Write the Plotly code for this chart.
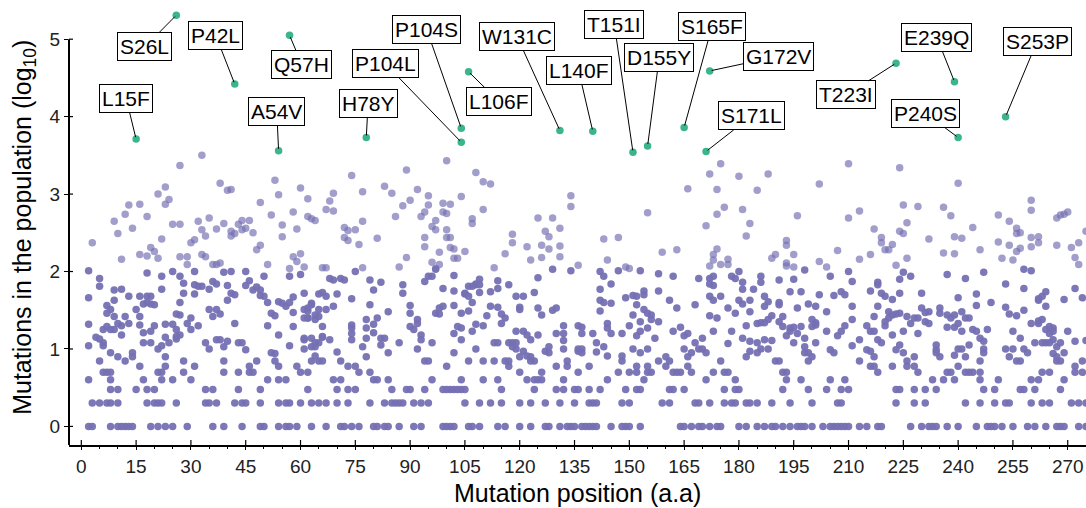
import numpy as np
import plotly.graph_objects as go

# ---------------- data ----------------
# positions whose mutation count sits on the low discrete levels
pos_count1 = [2,3,8,10,11,12,13,14,19,21,23,25,29,36,39,44,49,50,54,56,57,59,63,67,71,72,74,76,80,81,83,84,87,91,93,99,100,101,102,106,107,109,114,116,120,123,127,128,131,133,134,135,137,138,139,140,141,145,148,149,150,153,164,165,167,169,170,172,174,175,180,182,185,187,189,190,192,194,196,197,198,200,203,205,206,207,208,209,210,213,215,218,219,227,230,232,233,234,237,240,245,248,249,250,252,255,259,261,264,267,268,269,273,275]
pos_count2 = [3,5,7,8,10,18,20,21,22,26,34,35,37,42,44,45,49,54,56,57,60,63,65,67,70,73,79,83,85,86,87,88,91,93,95,105,109,112,115,120,123,127,131,135,139,140,141,148,150,159,161,168,169,172,176,178,179,182,183,185,189,194,200,207,208,223,228,231,242,246,250,253,254,260,263,265,271,273,275]
pos_count3 = [8,10,15,18,20,34,36,43,49,62,70,73,75,85,89,90,94,99,100,101,102,103,104,105,115,124,130,132,135,136,139,142,149,152,153,161,162,165,176,179,180,192,199,204,208,210,223,224,228,231,234,247,250,257,258,261,268]
pos_count4 = [2,8,17,22,25,30,51,54,56,69,71,80,81,84,96,104,110,114,122,124,125,126,132,144,154,171,179,193,197,205,209,233,236,239,246,251,260,262,269]
pos_count5 = [6,7,8,21,22,28,39,43,46,47,60,62,76,79,120,126,136,147,150,152,155,156,162,163,164,167,173,176,177,192,193,218,229,237,238,242,243,244,246,263,265,272,274]
pos_count6 = [16,23,31,46,54,59,73,75,100,117,130,133,139,152,155,160,166,216,217,222,226,228,240,272]
pos_count7 = [5,12,28,39,48,53,63,65,66,71,94,95,106,110,113,116,117,123,124,133,148,158,161,175,190,191,199,213,226,246,256,257,267,268,274]

# (position, log10 count) for the remaining mutations, by stretch of the protein
points_1_64 = [(33,3.50),(27,3.37),(38,3.14),(40,3.05),(41,3.06),(53,3.18),(54,2.99),(60,3.08),(62,2.94),(23,3.09),(21,3.00),(24,2.93),(23,2.87),(13,2.86),(16,2.87),(12,2.74),(9,2.65),(18,2.71),(14,2.56),(10,2.49),(3,2.37),(11,2.16),(16,2.22),(18,2.20),(19,2.31),(20,2.26),(21,2.17),(22,2.42),(25,2.61),(27,2.61),(30,2.37),(31,2.41),(32,2.65),(33,2.54),(34,2.46),(35,2.69),(37,2.55),(39,2.62),(41,2.52),(42,2.49),(41,2.46),(43,2.61),(44,2.66),(45,2.56),(44,2.54),(46,2.66),(47,2.50),(49,2.89),(52,2.73),(55,2.60),(55,2.45),(58,2.77),(59,2.55),(62,2.71),(63,2.68),(64,2.66),(48,2.28),(49,2.34),(51,2.09),(58,2.19),(59,2.13),(60,2.23),(27,2.19),(29,2.19),(29,2.09),(33,2.22),(34,2.19),(36,2.09),(37,2.09),(38,2.11),(39,1.99),(41,2.00),(45,2.00),(50,1.94),(57,2.04),(57,1.94),(61,2.06),(60,1.96),(25,2.00),(27,1.94),(28,1.85),(22,1.94),(22,1.77),(18,1.98),(2,2.01),(5,1.91),(5,1.81),(2,1.66),(11,1.77),(13,1.68),(9,1.63),(9,1.76),
    (2,1.32),(2,1.04),(4,1.15),(5,1.13),(6,1.08),(6,1.04),(7,1.56),(7,1.46),(8,1.51),(6,1.25),(7,1.29),(8,1.25),(9,1.42),(9,1.25),(11,1.30),(11,1.18),(10,1.33),(12,1.42),(13,1.33),(8,0.95),(10,0.90),(14,0.95),(14,0.90),(15,1.51),(16,1.42),(17,1.58),(18,1.60),(19,1.58),(20,1.57),(16,1.68),(18,1.68),(19,1.68),(16,1.31),(17,1.21),(19,1.23),(20,1.30),(17,1.08),(19,1.08),(21,1.00),(22,1.04),(23,1.15),(24,1.08),(23,0.90),(23,1.32),(25,1.32),(26,1.25),(27,1.18),(26,1.16),(27,1.44),(26,1.45),(27,1.60),(28,1.72),(29,1.33),(30,1.25),(30,1.40),(31,1.71),(31,1.83),(31,2.00),(26,1.13),(32,1.30),(32,1.81),(33,1.81),(35,1.77),(36,1.87),(37,1.84),(35,1.51),(36,1.42),(37,1.51),(38,1.45),(34,1.08),(35,1.00),(37,1.12),(38,1.12),(39,1.03),(40,1.10),(40,1.63),(41,1.72),(42,1.70),(40,1.82),(42,1.33),(43,1.08),(44,1.08),(45,1.82),(46,1.88),(47,1.76),(48,1.80),(49,1.76),(50,1.68),(49,1.69),(45,0.99),(51,1.60),(52,1.46),(53,1.43),(54,1.61),(55,1.59),(56,1.55),(57,1.60),(58,1.67),(51,1.30),(54,1.18),(52,0.95),(53,0.94),(58,1.47),(58,1.29),(61,1.40),(62,1.40),(62,1.49),(63,1.57),(64,1.38),(61,1.12),(63,1.03),(64,1.08),(64,0.91),(57,1.04)]

points_61_131 = [(100,3.43),(89,3.31),(74,3.24),(108,3.28),(110,3.16),(112,3.13),(83,3.10),(85,3.01),(92,3.06),(95,2.98),(90,2.92),(88,2.85),(95,2.86),(94,2.77),(93,2.71),(77,3.03),(69,3.01),(68,2.91),(69,2.78),(67,2.80),(104,2.97),(99,2.88),(101,2.87),(99,2.77),(100,2.75),(110,2.80),(86,2.71),(77,2.65),(97,2.66),(96,2.58),(97,2.54),(100,2.54),(72,2.57),(73,2.53),(75,2.54),(72,2.44),(73,2.40),(76,2.35),(81,2.43),(94,2.44),(94,2.32),(100,2.44),(101,2.44),(101,2.31),(102,2.29),(103,2.17),(102,2.17),(105,2.26),(107,2.68),(107,2.62),(98,2.25),(89,2.18),(96,2.12),(98,2.09),(97,2.03),(125,2.69),(129,2.69),(127,2.52),(128,2.45),(131,2.56),(118,2.48),(116,2.23),(118,2.37),(122,2.32),(123,2.15),(126,2.34),(126,2.18),(128,2.29),(131,2.33),(131,2.19),(129,2.03),(125,1.92),(113,2.05),(66,2.05),(67,2.05),(68,1.91),(69,1.89),(71,1.91),(72,1.89),(75,2.00),(77,2.05),(87,2.06),(74,1.65),(79,1.89),(80,1.76),(82,1.86),(88,1.83),(88,1.72),(95,1.94),(96,1.94),(94,1.87),(97,2.04),(102,1.95),(99,1.78),(102,1.75),(109,1.90),(108,1.83),(107,1.81),(109,1.73),(106,1.68),(105,1.71),(112,1.74),(114,1.88),(114,1.78),(117,1.83),(114,1.54),(115,1.45),(116,1.40),(115,1.33),(119,1.68),(121,1.68),(120,1.54),(120,1.51),(124,1.73),(125,1.53),(126,1.44),(130,1.53),(61,1.72),(61,1.51),(62,1.53),(62,1.40),(63,1.59),(65,1.71),(66,1.73),(67,1.68),(65,1.51),(65,1.42),(64,1.44),(67,1.51),(69,1.55),(70,1.71),(66,1.29),(66,1.16),(61,1.14),(63,1.14),(64,1.03),(65,1.08),(66,1.15),(68,1.12),(61,1.00),(70,0.96),(74,1.31),(74,1.27),(74,1.20),(74,1.12),(77,1.03),(78,1.14),(78,1.27),(78,1.38),(80,1.32),(81,1.40),(80,1.21),(82,1.14),(83,1.14),(82,1.05),(84,0.95),(79,1.57),(84,1.48),(78,0.90),(87,1.08),(90,1.56),(90,1.46),(90,1.29),(91,1.25),(92,1.38),(92,1.33),(93,1.18),(93,1.12),(92,1.00),(96,1.08),(97,1.46),(98,1.53),(99,1.55),(98,1.45),(102,1.56),(102,1.20),(104,1.46),(104,1.27),(103,1.29),(102,0.95),(104,1.12),(105,1.72),(106,1.81),(108,1.84),(109,1.83),(107,1.60),(106,1.49),(108,1.32),(110,1.30),(111,1.43),(112,1.55),(107,1.23),(108,1.00),(113,1.08),(114,1.08),(117,1.08),(118,1.08),(119,1.08),(119,1.00),(118,1.03),(120,0.90),(121,0.97),(122,0.91),(123,0.90),(123,1.12),(122,1.18),(121,1.23),(119,1.23),(128,0.95),(128,1.03),(127,0.97),(130,1.20),(129,1.50),(125,1.18)]

points_132_196 = [(175,3.39),(172,3.26),(174,3.06),(174,2.74),(171,2.59),(180,3.23),(181,2.80),(183,2.62),(182,2.46),(185,3.05),(188,3.26),(176,2.83),(166,3.07),(134,2.98),(134,2.84),(155,2.76),(196,2.72),(143,2.42),(147,2.44),(144,2.15),(136,2.08),(134,2.01),(159,2.25),(163,2.28),(173,2.22),(174,2.29),(173,2.15),(172,2.07),(175,2.09),(177,2.16),(177,2.09),(189,2.17),(190,2.22),(193,2.40),(193,2.34),(195,2.22),(193,2.11),(193,2.07),(195,2.06),(142,2.00),(143,1.94),(145,1.84),(142,1.77),(142,1.63),(143,1.60),(145,1.59),(147,2.01),(149,2.06),(150,2.04),(153,2.01),(149,1.66),(151,1.69),(152,1.68),(154,1.75),(154,1.70),(158,1.97),(162,1.94),(158,1.75),(161,1.63),(163,1.53),(168,1.57),(169,1.91),(172,1.91),(173,1.94),(172,1.84),(173,1.82),(172,1.68),(173,1.63),(175,1.68),(172,1.43),(174,1.40),(178,1.94),(179,1.91),(180,2.00),(181,1.86),(181,1.77),(180,1.63),(181,1.58),(183,1.63),(184,1.77),(186,1.94),(186,1.86),(187,1.68),(188,1.61),(187,1.55),(191,1.89),(194,1.74),(195,1.90),(191,1.60),(191,1.57),(196,1.53),(177,1.53),(179,1.46),(183,1.48),(185,1.33),(186,1.34),(187,1.34),(188,1.38),(189,1.43),(183,1.10),(185,1.08),(187,1.12),(132,1.30),(132,1.20),(132,1.11),(132,1.00),(136,1.30),(137,1.28),(137,1.20),(136,1.00),(136,0.97),(137,1.00),(137,0.95),(140,1.20),(141,1.08),(141,0.96),(143,1.03),(144,0.91),(142,1.49),(144,1.33),(144,1.27),(145,1.20),(148,1.20),(148,0.91),(150,1.30),(152,1.57),(151,1.44),(151,1.00),(152,1.17),(153,1.23),(153,1.35),(153,0.95),(154,1.51),(155,1.46),(156,1.44),(156,1.38),(158,1.35),(155,1.27),(157,1.14),(155,1.00),(160,0.90),(162,1.23),(164,1.28),(165,1.17),(166,1.20),(165,1.00),(166,0.90),(167,0.95),(168,1.08),(170,1.14),(169,1.00),(170,1.00),(171,0.95),(173,1.23),(177,1.07),(178,1.23),(181,1.14),(182,1.30),(183,0.97),(185,0.95),(186,1.00),(188,1.00),(189,1.11),(182,0.90),(191,1.35),(192,1.42),(192,1.29),(194,1.27),(194,1.23),(195,1.28),(195,1.08),(196,1.20),(193,1.17)]

points_197_275 = [(210,3.39),(224,3.34),(202,3.13),(240,3.14),(210,2.69),(213,2.78),(225,2.86),(229,2.84),(226,2.63),(236,2.83),(238,2.72),(260,2.92),(260,2.79),(267,2.69),(268,2.73),(269,2.74),(270,2.77),(275,2.52),(251,2.73),(254,2.65),(256,2.56),(257,2.50),(256,2.49),(260,2.44),(262,2.45),(262,2.37),(260,2.32),(257,2.30),(256,2.26),(254,2.34),(255,2.15),(252,2.17),(251,2.38),(244,2.57),(246,2.28),(247,1.99),(239,2.45),(241,2.43),(239,2.23),(236,2.24),(217,2.55),(219,2.37),(219,2.44),(222,2.35),(220,2.28),(221,2.28),(224,2.52),(225,2.49),(226,2.17),(223,2.08),(232,2.42),(207,2.27),(202,2.13),(204,2.06),(205,1.94),(213,2.16),(216,2.22),(198,2.02),(267,2.34),(271,2.31),(272,2.18),(273,2.09),(273,2.37),(210,2.00),(211,1.87),(224,1.90),(225,1.99),(227,1.94),(237,1.96),(242,1.91),(258,2.03),(260,2.01),(258,1.78),(253,1.84),(272,1.78),(197,1.74),(199,1.58),(201,1.55),(202,1.70),(204,1.48),(206,1.69),(208,1.74),(209,1.70),(211,1.55),(216,1.75),(218,1.86),(218,1.83),(219,1.72),(220,1.68),(222,1.64),(224,1.72),(218,1.55),(221,1.48),(222,1.44),(223,1.45),(224,1.46),(221,1.40),(220,1.35),(220,1.30),(226,1.42),(227,1.33),(228,1.40),(229,1.40),(230,1.53),(231,1.47),(232,1.48),(229,1.20),(225,1.23),(231,1.35),(232,1.33),(230,1.72),(240,1.66),(245,1.71),(245,1.56),(249,1.60),(235,1.53),(235,1.46),(237,1.44),(238,1.40),(239,1.44),(241,1.48),(237,1.28),(239,1.28),(240,1.33),(241,1.23),(242,1.40),(243,1.40),(244,1.25),(245,1.23),(246,1.14),(247,1.10),(248,1.25),(247,0.95),(234,1.05),(234,0.99),(234,0.95),(235,0.90),(239,0.92),(240,1.00),(241,1.00),(242,0.90),(243,1.05),(247,1.00),(253,1.54),(254,1.45),(256,1.43),(258,1.50),(260,1.33),(262,1.65),(262,1.63),(263,1.68),(264,1.74),(264,1.55),(263,1.38),(262,1.36),(262,1.33),(265,1.29),(266,1.27),(264,1.25),(266,1.23),(265,1.20),(270,1.23),(269,1.64),(274,1.66),(255,1.23),(257,1.14),(255,1.00),(253,1.00),(258,1.00),(259,0.95),(261,1.08),(263,1.08),(264,1.08),(265,1.08),(266,1.12),(267,1.03),(268,1.08),(266,0.94),(267,0.90),(269,0.95),(272,1.10),(275,1.11),(254,0.90),(201,1.08),(198,1.03),(198,0.95),(199,0.95),(200,0.90),(197,1.29),(198,1.14),(200,1.38),(201,1.34),(201,1.31),(200,1.29),(204,1.23),(205,0.99),(206,0.95),(207,1.17),(208,1.23),(209,1.30),(211,1.38),(211,1.04),(213,1.12),(215,1.30),(216,1.23),(217,1.23),(217,1.42),(215,0.99),(216,0.97),(217,0.90),(218,1.12),(219,1.08),(222,1.18),(223,0.99),(224,1.05),(225,0.95),(228,0.90)]

# highlighted (frequent) mutations
hl_labels = ["L15F","S26L","P42L","A54V","Q57H","H78Y","P104L","P104S","L106F","W131C","L140F","T151I","D155Y","S165F","S171L","G172V","T223I","E239Q","P240S","S253P"]
hl_pos    = [15, 26, 42, 54, 57, 78, 104, 104, 106, 131, 140, 151, 155, 165, 171, 172, 223, 239, 240, 253]
hl_log    = [3.71, 5.31, 4.42, 3.56, 5.05, 3.73, 3.67, 3.85, 4.58, 3.82, 3.81, 3.54, 3.62, 3.86, 3.55, 4.59, 4.69, 4.45, 3.73, 4.00]

x_ticks = list(range(0, 271, 15))
y_ticks = [0, 1, 2, 3, 4, 5]

# ---------------- assemble ----------------
xs, ys = [], []
for count, plist in [(1, pos_count1), (2, pos_count2), (3, pos_count3), (4, pos_count4),
                     (5, pos_count5), (6, pos_count6), (7, pos_count7)]:
    xs += plist
    ys += [float(np.log10(count))] * len(plist)
for plist in [points_1_64, points_61_131, points_132_196, points_197_275]:
    xs += [p for p, v in plist]
    ys += [v for p, v in plist]
ys = np.array(ys)
opac = np.where(ys > 2.03, 0.68, 0.95)

PURPLE = "#7570b3"
GREEN = "#3db58b"
FONT = "Liberation Sans, Arial, Helvetica, sans-serif"

fig = go.Figure()
fig.add_trace(go.Scatter(x=xs, y=ys, mode="markers",
                         marker=dict(color=PURPLE, size=7.5, opacity=opac, line=dict(width=0)),
                         hoverinfo="skip", showlegend=False))
fig.add_trace(go.Scatter(x=hl_pos, y=hl_log, mode="markers",
                         marker=dict(color=GREEN, size=7.5, line=dict(width=0)),
                         hoverinfo="skip", showlegend=False))

# label box placement (layout only), in data units
label_place = {
    "L15F": (12.3, 4.23), "S26L": (17.4, 4.90), "P42L": (36.8, 5.05), "A54V": (53.5, 4.07),
    "Q57H": (60.4, 4.67), "H78Y": (78.5, 4.17), "P104L": (83.3, 4.68), "P104S": (94.5, 5.13),
    "L106F": (114.4, 4.19), "W131C": (119.3, 5.03), "L140F": (136.1, 4.60), "T151I": (145.9, 5.19),
    "D155Y": (158.2, 4.77), "S165F": (172.6, 5.16), "S171L": (183.5, 4.01), "G172V": (190.8, 4.78),
    "T223I": (209.4, 4.28), "E239Q": (234.2, 5.02), "P240S": (231.2, 4.04), "S253P": (261.6, 4.97),
}
annotations = []
for lab, px, py in zip(hl_labels, hl_pos, hl_log):
    ax, ay = label_place[lab]
    annotations.append(dict(x=px, y=py, xref="x", yref="y", ax=ax, ay=ay, axref="x", ayref="y",
                            text=lab, showarrow=True, arrowhead=0, arrowwidth=1, arrowcolor="black",
                            standoff=2, startstandoff=0,
                            font=dict(family=FONT, size=21, color="black"),
                            bgcolor="white", bordercolor="black", borderwidth=1, borderpad=2))

annotations.append(dict(text="Mutations in the population (log<sub>10</sub>)", textangle=-90,
                        xref="paper", yref="paper", x=0, y=0.488, xshift=-45, xanchor="center",
                        yanchor="middle", showarrow=False,
                        font=dict(family=FONT, size=25, color="black")))
annotations.append(dict(text="Mutation position (a.a)", xref="paper", yref="paper", x=0.5, y=0,
                        yshift=-48, xanchor="center", yanchor="middle", showarrow=False,
                        font=dict(family=FONT, size=25, color="black")))

shapes = [dict(type="line", xref="paper", yref="y", x0=0, x1=0, y0=-0.24, y1=5,
               line=dict(color="black", width=2))]
# inner half of the crossing ticks
for t in x_ticks:
    shapes.append(dict(type="line", xref="x", yref="paper", ysizemode="pixel", yanchor=0,
                       x0=t, x1=t, y0=0, y1=5, line=dict(color="black", width=1.2)))
for t in y_ticks:
    shapes.append(dict(type="line", yref="y", xref="paper", xsizemode="pixel", xanchor=0,
                       y0=t, y1=t, x0=0, x1=4, line=dict(color="black", width=1.2)))

fig.update_layout(
    width=1086, height=508, autosize=False,
    margin=dict(l=69, r=0, t=0, b=63),
    paper_bgcolor="white", plot_bgcolor="white",
    font=dict(family=FONT, color="black"),
    xaxis=dict(range=[-3.37, 275.0], tickmode="array", tickvals=x_ticks,
               ticks="outside", ticklen=3, tickwidth=1.2, tickcolor="black",
               minor=dict(tickmode="array", tickvals=[v for v in range(0, 276, 5) if v % 15],
                          ticks="outside", ticklen=2, tickwidth=1, tickcolor="black"),
               showline=True, linewidth=2, linecolor="black",
               showgrid=False, zeroline=False,
               tickfont=dict(family=FONT, size=19, color="#222222")),
    yaxis=dict(range=[-0.24, 5.506], tickmode="array", tickvals=y_ticks,
               ticks="outside", ticklen=4, tickwidth=1.2, tickcolor="black",
               showline=False, showgrid=False, zeroline=False,
               tickfont=dict(family=FONT, size=19, color="#222222")),
    annotations=annotations, shapes=shapes,
)

fig.write_html("out.html")
